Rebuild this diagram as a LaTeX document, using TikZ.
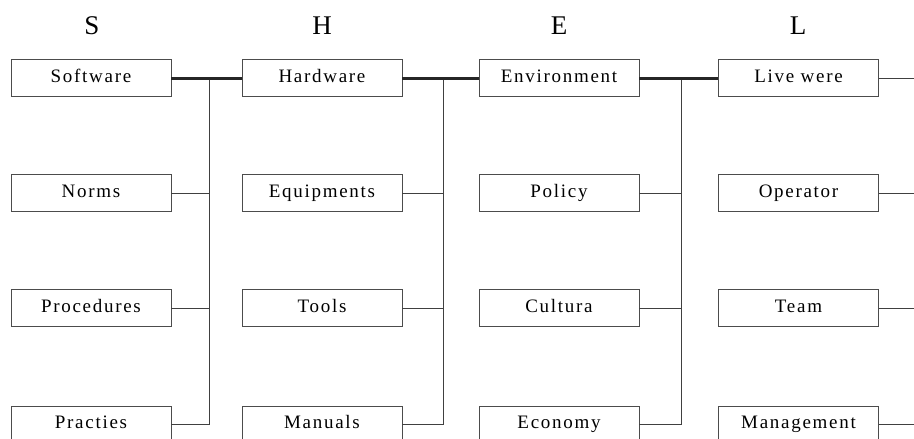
\documentclass[tikz,border=0pt]{standalone}
\usepackage{fontspec}
\setmainfont{Liberation Serif}
\begin{document}
\begin{tikzpicture}[x=1pt,y=-1pt,
  item/.style={draw=black!70, line width=0.8pt, fill=white, minimum width=160pt,
    minimum height=37pt, inner sep=0pt, text height=12pt, text depth=3.5pt,
    font=\fontsize{19}{22}\selectfont\addfontfeatures{LetterSpace=9}},
  head/.style={font=\fontsize{27}{30}\selectfont},
  spine/.style={draw=black!85, line width=3pt},
  branch/.style={draw=black!75, line width=0.9pt}]
\useasboundingbox (0,0) rectangle (914,439);

% column headings
\node[head] (hS) at (92,26) {S};
\node[head] (hH) at (322,26) {H};
\node[head] (hE) at (559,26) {E};
\node[head] (hL) at (798,26) {L};

% boxes: columns at x = 91, 322, 559, 798 ; rows at y = 78, 193, 308, 424
\foreach \c/\x/\a/\b/\cc/\d in {
  s/91/Software/Norms/Procedures/Practies,
  h/322/Hardware/Equipments/Tools/Manuals,
  e/559/Environment/Policy/Cultura/Economy,
  l/798.5/Live were/Operator/Team/Management}{
  \node[item] (\c1) at (\x,78) {\a};
  \node[item] (\c2) at (\x,193) {\b};
  \node[item] (\c3) at (\x,308) {\cc};
  \node[item] (\c4) at (\x,424.5) {\d};
}

% vertical collectors between columns
\coordinate (js) at (209,78);
\coordinate (jh) at (443,78);
\coordinate (je) at (681,78);
\foreach \c/\j in {s/js,h/jh,e/je}{
  \draw[branch] (\j) -- (\j |- \c4.east);
  \foreach \r in {2,3,4}{
    \draw[branch] (\c\r.east) -- (\j |- \c\r.east);
  }
}

% main spine
\draw[spine] (s1.east) -- (h1.west);
\draw[spine] (h1.east) -- (e1.west);
\draw[spine] (e1.east) -- (l1.west);

% outgoing stubs on the last column
\foreach \r in {1,2,3,4}{
  \coordinate (o\r) at (914,0 |- l\r.east);
  \draw[branch] (l\r.east) -- (o\r);
}
\end{tikzpicture}
\end{document}
